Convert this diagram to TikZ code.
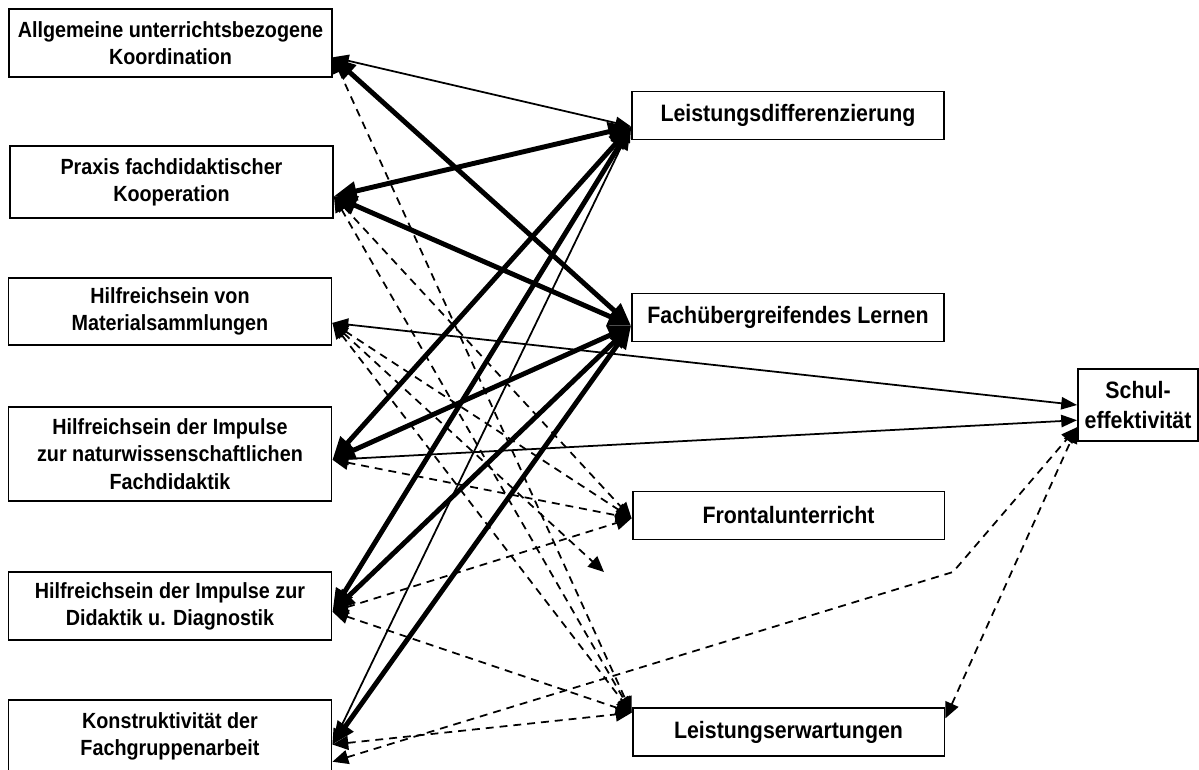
\documentclass[tikz,border=0pt]{standalone}
\usepackage{fontspec}
\setmainfont{Liberation Sans}[FakeStretch=0.9]
\usetikzlibrary{arrows.meta}

\begin{document}
\begin{tikzpicture}[x=0.02cm, y=-0.02cm,
    links/.style={draw, line width=1.1pt, minimum width=6.46cm, align=center, inner sep=0pt,
        font=\fontsize{12.5}{15.5}\selectfont\bfseries},
    rechts/.style={draw, line width=1.1pt, minimum width=6.24cm, minimum height=0.96cm, align=center, inner sep=0pt,
        font=\fontsize{13.5}{15}\selectfont\bfseries},
    dick/.style={line width=2.8pt, >={Triangle[length=13pt,width=10.5pt]}, <->},
    duenn/.style={line width=1pt, >={Triangle[length=9pt,width=7pt]}, <->},
    gestrichelt/.style={line width=1pt, dash pattern=on 4.5pt off 3.4pt, >={Triangle[length=9pt,width=8pt]}, <->}]
    \useasboundingbox (0,0) rectangle (1199,769);
    \clip (0,0) rectangle (1199,769);

    % Praediktoren links
    \node[links, minimum height=1.36cm] (pred_koord) at (170.5,43) {Allgemeine unterrichtsbezogene\\Koordination};
    \node[links, minimum height=1.44cm] (pred_koop) at (171.5,182) {Praxis fachdidaktischer\\Kooperation};
    \node[links, minimum height=1.34cm] (pred_mat) at (170,311.5) {Hilfreichsein von\\Materialsammlungen};
    \node[links, minimum height=1.88cm] (pred_nawi) at (170,454) {Hilfreichsein der Impulse\\zur naturwissenschaftlichen\\Fachdidaktik};
    \node[links, minimum height=1.36cm] (pred_diag) at (170,606) {Hilfreichsein der Impulse zur\\Didaktik u. Diagnostik};
    \node[links, minimum height=1.44cm] (pred_konstr) at (170,736) {Konstruktivität der\\Fachgruppenarbeit};

    % Kriterien rechts
    \node[rechts] (out_diff) at (788,115.5) {Leistungsdifferenzierung};
    \node[rechts] (out_fach) at (788,317.5) {Fachübergreifendes Lernen};
    \node[rechts] (out_front) at (788.5,515.5) {Frontalunterricht};
    \node[rechts] (out_erw) at (788.5,732) {Leistungserwartungen};
    \node[draw, line width=1.1pt, minimum width=2.4cm, minimum height=1.44cm, align=center, inner sep=0pt,
        font=\fontsize{13.5}{17.5}\selectfont\bfseries] (out_schul) at (1138,405) {Schul-\\effektivität};

    \coordinate (knick) at (953,572);
    \coordinate (lose) at (604,572);

    % duenne Pfeile
    \draw[duenn] (pred_koord.-5) -- (out_diff.184);
    \draw[duenn] (pred_mat.-4) -- (out_schul.180);
    \draw[duenn] (pred_nawi.-2) -- (out_schul.194);
    \draw[duenn] (pred_konstr.-3) -- (out_diff.184);

    % dicke Pfeile
    \draw[dick] (pred_koord.-5) -- (out_fach.183.5);
    \draw[dick] (pred_koop.-5) -- (out_diff.184);
    \draw[dick] (pred_koop.-5) -- (out_fach.183.5);
    \draw[dick] (pred_nawi.-2) -- (out_diff.184);
    \draw[dick] (pred_nawi.-2) -- (out_fach.183.5);
    \draw[dick] (pred_diag.-2) -- (out_diff.184);
    \draw[dick] (pred_diag.-2) -- (out_fach.183.5);
    \draw[dick] (pred_konstr.-3) -- (out_fach.183.5);

    % gestrichelte Pfeile
    \draw[gestrichelt] (pred_koord.-5) -- (out_erw.173);
    \draw[gestrichelt] (pred_koop.-5) -- (out_front.181.7);
    \draw[gestrichelt] (pred_koop.-5) -- (out_erw.173);
    \draw[gestrichelt] (pred_mat.-4) -- (out_front.181.7);
    \draw[gestrichelt] (pred_mat.-4) -- (out_erw.173);
    \draw[gestrichelt] (pred_mat.-4) -- (lose);
    \draw[gestrichelt] (pred_nawi.-2) -- (out_front.181.7);
    \draw[gestrichelt] (pred_diag.-2) -- (out_front.181.7);
    \draw[gestrichelt] (pred_diag.-2) -- (out_erw.173);
    \draw[gestrichelt] (pred_konstr.-3) -- (out_erw.173);
    \draw[gestrichelt] (pred_konstr.-9) -- (knick) -- (out_schul.200);
    \draw[gestrichelt] (out_erw.5) -- (out_schul.200);
\end{tikzpicture}
\end{document}
